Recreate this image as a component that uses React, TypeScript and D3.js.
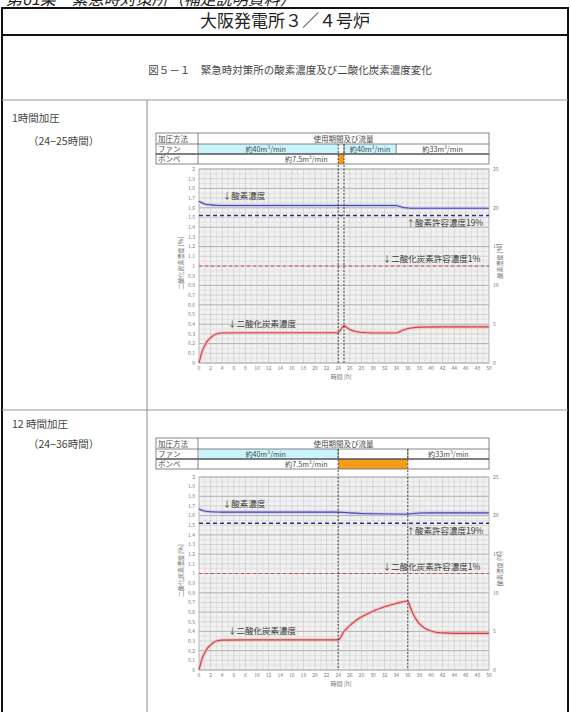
import React from "react";
import * as d3 from "d3";

const W = 571;
const H = 712;
const FONT = "'Noto Sans CJK JP', 'Noto Sans', sans-serif";

// ---- axes ----
const xTicks = d3.range(0, 51, 2);
const leftTicks = d3.range(0, 21).map((i) => i / 10);
const rightTicks = [0, 5, 10, 15, 20, 25];

// ---- chart 1 (1 時間加圧, 24-25 h) ----
const co2Hours1 = [0, 0.3, 0.6, 1, 1.5, 2, 2.5, 3, 4, 8, 16, 24, 24.5, 25, 25.5, 26, 27, 28, 30, 34, 34.5, 35, 35.5, 36, 37, 38, 42, 50];
const co2Values1 = [0, 0.07, 0.13, 0.18, 0.23, 0.26, 0.285, 0.3, 0.31, 0.312, 0.312, 0.312, 0.35, 0.385, 0.365, 0.345, 0.325, 0.315, 0.31, 0.31, 0.32, 0.335, 0.345, 0.355, 0.365, 0.37, 0.372, 0.372];
const o2Hours1 = [0, 0.5, 1, 2, 3, 4, 10, 20, 34, 34.5, 35, 36, 37, 40, 50];
const o2Values1 = [20.85, 20.65, 20.5, 20.38, 20.32, 20.3, 20.3, 20.3, 20.3, 20.2, 20.08, 19.98, 19.95, 19.95, 19.95];
const fanSegments1 = [
  { start: 0, end: 24, label: "約40m³/min", cyan: true },
  { start: 25, end: 34, label: "約40m³/min", cyan: true },
  { start: 34, end: 50, label: "約33m³/min", cyan: false },
];
const cylSegments1 = [
  { start: 0, end: 24, label: "約7.5m³/min", orange: false },
  { start: 24, end: 25, label: "", orange: true },
  { start: 25, end: 50, label: "", orange: false },
];
const markers1 = [24, 25];

// ---- chart 2 (12 時間加圧, 24-36 h) ----
const co2Hours2 = [0, 0.3, 0.6, 1, 1.5, 2, 2.5, 3, 4, 8, 24, 25, 26, 27, 28, 29, 30, 32, 34, 36, 36.5, 37, 37.5, 38, 39, 40, 41, 42, 44, 50];
const co2Values2 = [0, 0.07, 0.13, 0.18, 0.23, 0.26, 0.285, 0.3, 0.31, 0.312, 0.312, 0.4, 0.46, 0.51, 0.55, 0.58, 0.61, 0.655, 0.69, 0.715, 0.64, 0.57, 0.52, 0.48, 0.43, 0.405, 0.39, 0.385, 0.38, 0.38];
const o2Hours2 = [0, 0.5, 1, 2, 3, 4, 10, 24, 26, 28, 30, 33, 36, 37, 38, 40, 50];
const o2Values2 = [20.85, 20.7, 20.6, 20.5, 20.47, 20.45, 20.45, 20.45, 20.35, 20.28, 20.24, 20.2, 20.18, 20.28, 20.33, 20.35, 20.35];
const fanSegments2 = [
  { start: 0, end: 24, label: "約40m³/min", cyan: true },
  { start: 24, end: 36, label: "", cyan: false },
  { start: 36, end: 50, label: "約33m³/min", cyan: false },
];
const cylSegments2 = [
  { start: 0, end: 24, label: "約7.5m³/min", orange: false },
  { start: 24, end: 36, label: "", orange: true },
  { start: 36, end: 50, label: "", orange: false },
];
const markers2 = [24, 36];

const O2_LIMIT = 19;
const CO2_LIMIT = 1;

type Seg = { start: number; end: number; label: string; cyan?: boolean; orange?: boolean };

function Chart(props: {
  tableTop: number;
  plotTop: number;
  plotBottom: number;
  fan: Seg[];
  cyl: Seg[];
  co2H: number[];
  co2V: number[];
  o2H: number[];
  o2V: number[];
  markers: number[];
}) {
  const { tableTop, plotTop, plotBottom, fan, cyl, co2H, co2V, o2H, o2V, markers } = props;
  const x = d3.scaleLinear().domain([0, 50]).range([199, 489]);
  const yL = d3.scaleLinear().domain([0, 2]).range([plotBottom, plotTop]);
  const yR = d3.scaleLinear().domain([0, 25]).range([plotBottom, plotTop]);
  const tl = 156;
  const tc = 198;
  const tr = 489;
  const r0 = tableTop;
  const r1 = tableTop + 11;
  const r2 = tableTop + 21;
  const r3 = tableTop + 31;

  const co2Line = d3
    .line<number>()
    .x((_, i) => x(co2H[i]))
    .y((d) => yL(d))
    .curve(d3.curveMonotoneX)(co2V) as string;
  const o2Line = d3
    .line<number>()
    .x((_, i) => x(o2H[i]))
    .y((d) => yR(d))
    .curve(d3.curveMonotoneX)(o2V) as string;

  const hourLines = d3.range(0, 51, 1);
  const fine = d3.range(0, 2.0001, 0.05);
  const tableText = "#4a4a4a";
  const tickColor = "#777";

  return (
    <g fontFamily={FONT}>
      {/* header table */}
      {fan.map((s, i) => (
        <rect key={"f" + i} x={x(s.start)} y={r1} width={x(s.end) - x(s.start)} height={r2 - r1} fill={s.cyan ? "#c9f4fb" : "#fff"} />
      ))}
      {cyl.map((s, i) => (
        <rect key={"c" + i} x={x(s.start)} y={r2} width={x(s.end) - x(s.start)} height={r3 - r2} fill={s.orange ? "#f59d16" : "#fff"} />
      ))}
      <rect x={tl} y={r0} width={tr - tl} height={r3 - r0} fill="none" stroke="#666" strokeWidth={0.8} />
      <line x1={tl} x2={tr} y1={r1} y2={r1} stroke="#666" strokeWidth={0.8} />
      <line x1={tl} x2={tr} y1={r2} y2={r2} stroke="#555" strokeWidth={1.6} />
      <line x1={tc} x2={tc} y1={r0} y2={r3} stroke="#666" strokeWidth={0.8} />
      {fan.slice(1).map((s, i) => (
        <line key={"fd" + i} x1={x(s.start)} x2={x(s.start)} y1={r1} y2={r2} stroke="#666" strokeWidth={0.8} />
      ))}
      <text x={158} y={r1 - 2.3} fontSize={7.5} fill={tableText}>加圧方法</text>
      <text x={158} y={r2 - 1.8} fontSize={7.5} fill={tableText}>ファン</text>
      <text x={158} y={r3 - 1.8} fontSize={7.5} fill={tableText}>ボンベ</text>
      <text x={(tc + tr) / 2} y={r1 - 2.3} fontSize={7.5} fill={tableText} textAnchor="middle">使用期間及び流量</text>
      {fan.map((s, i) =>
        s.label ? (
          <text key={"fl" + i} x={i === 0 ? x(11.5) : x((s.start + s.end) / 2)} y={r2 - 1.8} fontSize={7.2} fill={tableText} textAnchor="middle">
            {s.label}
          </text>
        ) : null
      )}
      {cyl.map((s, i) =>
        s.label ? (
          <text key={"cl" + i} x={x(18.5)} y={r3 - 1.8} fontSize={7.2} fill={tableText} textAnchor="middle">
            {s.label}
          </text>
        ) : null
      )}

      {/* plot background & grid */}
      <rect x={x(0)} y={plotTop} width={x(50) - x(0)} height={plotBottom - plotTop} fill="#f1f1f1" />
      {fine.map((v, i) => (
        <line key={"h" + i} x1={x(0)} x2={x(50)} y1={yL(v)} y2={yL(v)} stroke={i % 4 === 0 ? "#939393" : i % 2 === 0 ? "#b6b6b6" : "#d4d4d4"} strokeWidth={i % 4 === 0 ? 0.7 : 0.5} />
      ))}
      {hourLines.map((h) => (
        <line key={"v" + h} x1={x(h)} x2={x(h)} y1={plotTop} y2={plotBottom} stroke={h % 2 === 0 ? "#bcbcbc" : "#d0d0d0"} strokeWidth={0.5} />
      ))}
      <rect x={x(0)} y={plotTop} width={x(50) - x(0)} height={plotBottom - plotTop} fill="none" stroke="#aaa" strokeWidth={0.6} />

      {/* ticks */}
      {leftTicks.map((v) => (
        <text key={"lt" + v} x={x(0) - 4} y={yL(v) + 1.8} fontSize={5} fill={tickColor} textAnchor="end">
          {v === 0 ? "0" : v === 1 ? "1" : v === 2 ? "2" : v.toFixed(1)}
        </text>
      ))}
      {rightTicks.map((v) => (
        <text key={"rt" + v} x={x(50) + 4} y={yR(v) + 1.8} fontSize={5} fill={tickColor}>
          {v}
        </text>
      ))}
      {xTicks.map((v) => (
        <text key={"xt" + v} x={x(v)} y={plotBottom + 7} fontSize={5} fill={tickColor} textAnchor="middle">
          {v}
        </text>
      ))}
      <text x={x(24.5)} y={plotBottom + 16} fontSize={6} fill={tickColor} textAnchor="middle">時間 [h]</text>
      <text transform={`translate(${x(0) - 16},${yL(1.03)}) rotate(-90)`} fontSize={6} fill={tickColor} textAnchor="middle">二酸化炭素濃度 [%]</text>
      <text transform={`translate(${x(50) + 13},${yL(1.05)}) rotate(-90)`} fontSize={6} fill={tickColor} textAnchor="middle">酸素濃度 [%]</text>

      {/* limits */}
      <line x1={x(0)} x2={x(50)} y1={yR(O2_LIMIT)} y2={yR(O2_LIMIT)} stroke="#2f3180" strokeWidth={1.6} strokeDasharray="4 3" />
      <line x1={x(0)} x2={x(50)} y1={yL(CO2_LIMIT)} y2={yL(CO2_LIMIT)} stroke="#d44a4a" strokeWidth={1.2} strokeDasharray="3 3" />

      {/* data */}
      <path d={o2Line} fill="none" stroke="#c9c9f0" strokeWidth={3.2} />
      <path d={o2Line} fill="none" stroke="#4646ac" strokeWidth={1.1} />
      <path d={co2Line} fill="none" stroke="#f5bcbc" strokeWidth={3.2} />
      <path d={co2Line} fill="none" stroke="#c24a4a" strokeWidth={1.1} />

      {/* markers */}
      {markers.map((m) => (
        <line key={"m" + m} x1={x(m)} x2={x(m)} y1={r1} y2={plotBottom} stroke="#333" strokeWidth={0.9} strokeDasharray="2 1.5" />
      ))}

      {/* annotations */}
      <text x={x(4.1)} y={yL(1.69)} fontSize={8.5} fill="#3a3a3a">↓酸素濃度</text>
      <text x={x(49)} y={yL(1.41)} fontSize={8.5} fill="#3a3a3a" textAnchor="end">↑酸素許容濃度19%</text>
      <text x={x(48.5)} y={yL(1.04)} fontSize={8.5} fill="#3a3a3a" textAnchor="end">↓二酸化炭素許容濃度1%</text>
      <text x={x(5)} y={yL(0.37)} fontSize={8.5} fill="#3a3a3a">↓二酸化炭素濃度</text>
    </g>
  );
}

export default function App() {
  return (
    <svg width={W} height={H} style={{ position: "absolute", left: 0, top: 0, background: "#fff" }} fontFamily={FONT}>
      <rect x={0} y={0} width={W} height={H} fill="#fff" />
      <text x={6} y={5} fontSize={16} fill="#222" fontStyle="italic">第61条　緊急時対策所（補足説明資料）</text>
      {/* outer frame */}
      <rect x={2} y={8} width={566} height={720} fill="none" stroke="#111" strokeWidth={2} />
      <line x1={2} x2={568} y1={35} y2={35} stroke="#111" strokeWidth={2} />
      <text x={285} y={27} fontSize={17} fill="#222" textAnchor="middle">大阪発電所３／４号炉</text>
      <text x={290} y={74} fontSize={10.5} fill="#444" textAnchor="middle">図５－１　緊急時対策所の酸素濃度及び二酸化炭素濃度変化</text>

      {/* inner table */}
      <line x1={2} x2={568} y1={100} y2={100} stroke="#999" strokeWidth={1.2} />
      <line x1={2} x2={568} y1={410} y2={410} stroke="#999" strokeWidth={1.2} />
      <line x1={147} x2={147} y1={100} y2={712} stroke="#999" strokeWidth={1.2} />

      <text x={12} y={122} fontSize={10.5} fill="#444">1時間加圧</text>
      <text x={28} y={145} fontSize={10.5} fill="#444">（24−25時間）</text>
      <text x={12} y={428} fontSize={10.5} fill="#444">12 時間加圧</text>
      <text x={28} y={448} fontSize={10.5} fill="#444">（24−36時間）</text>

      <Chart tableTop={133} plotTop={169} plotBottom={363} fan={fanSegments1} cyl={cylSegments1} co2H={co2Hours1} co2V={co2Values1} o2H={o2Hours1} o2V={o2Values1} markers={markers1} />
      <Chart tableTop={438} plotTop={477} plotBottom={670} fan={fanSegments2} cyl={cylSegments2} co2H={co2Hours2} co2V={co2Values2} o2H={o2Hours2} o2V={o2Values2} markers={markers2} />
    </svg>
  );
}
